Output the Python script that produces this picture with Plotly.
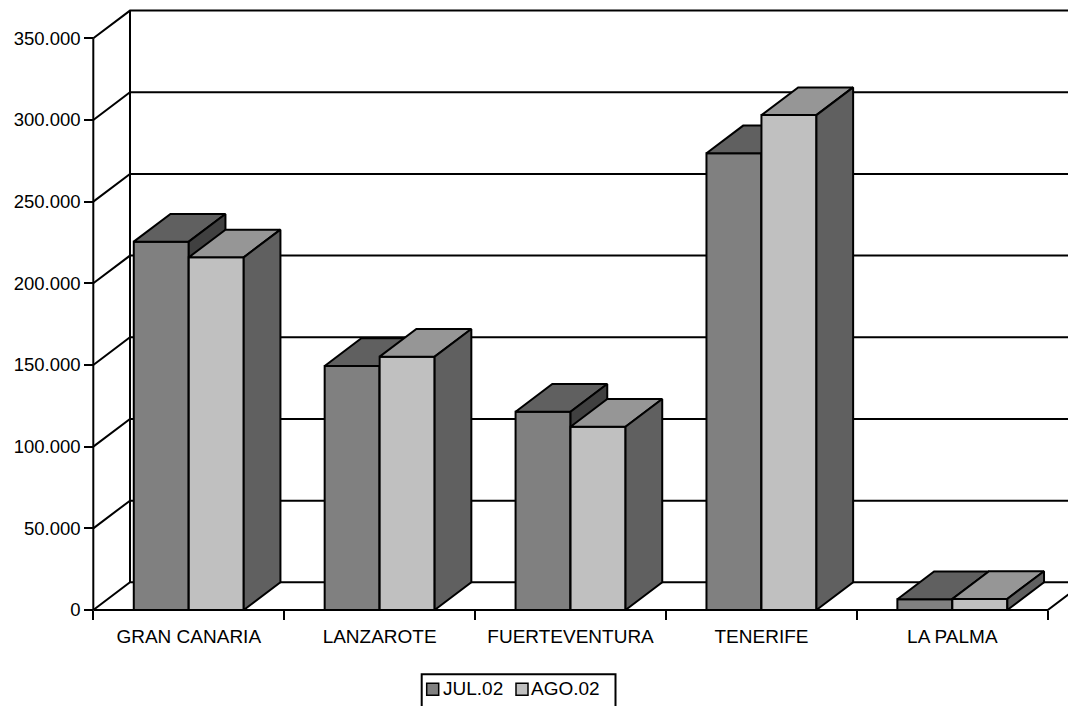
import plotly.graph_objects as go

# ---------------- data ----------------
categories = ["GRAN CANARIA", "LANZAROTE", "FUERTEVENTURA", "TENERIFE", "LA PALMA"]
series_names = ["JUL.02", "AGO.02"]
jul_values = [225500, 149400, 121400, 279600, 6600]
ago_values = [215900, 155100, 112200, 303000, 6800]
y_tick_values = [0, 50000, 100000, 150000, 200000, 250000, 300000, 350000]
y_tick_labels = ["0", "50.000", "100.000", "150.000", "200.000", "250.000", "300.000", "350.000"]

# ---------------- geometry ----------------
PAGE_OFF = 8                     # default body margin of the html page
W, H = 1076 - PAGE_OFF, 706 - PAGE_OFF
AX_X_PX = 93.3 - PAGE_OFF        # front value-axis x position (figure px)
AX_Y_PX = 610.0 - PAGE_OFF       # front baseline y position (figure px)
CAT_PX = 190.9                   # px per category
VAL_PX = 81.67 / 50000           # px per value unit
DEPTH_X_PX, DEPTH_Y_PX = 36.7, 27.7
BAR_W = 0.288

dx = DEPTH_X_PX / CAT_PX
dy = DEPTH_Y_PX / VAL_PX
x_range = [-0.5 - AX_X_PX / CAT_PX, -0.5 + (W - AX_X_PX) / CAT_PX]
y_range = [-(H - AX_Y_PX) / VAL_PX, AX_Y_PX / VAL_PX]
n = len(categories)
x_lo, x_hi = -0.5, n - 0.5
y_top = y_tick_values[-1]

FONT = "Liberation Sans, Arial, sans-serif"


def px(xp):
    return (xp - PAGE_OFF) / W


def py(yp):
    return 1 - (yp - PAGE_OFF) / H


fig = go.Figure()

# ---------------- walls, floor and gridlines ----------------
gx, gy = [], []
for v in y_tick_values:
    gx += [x_lo, x_lo + dx, x_hi + dx, None]
    gy += [v, v + dy, v + dy, None]
gx += [x_lo + dx, x_lo + dx, None]
gy += [dy, y_top + dy, None]
gx += [x_lo, x_lo, None]
gy += [0, y_top, None]
gx += [x_lo, x_hi, x_hi + dx, None]
gy += [0, 0, dy, None]
fig.add_trace(go.Scatter(x=gx, y=gy, mode="lines", line=dict(color="black", width=2),
                         hoverinfo="skip", showlegend=False))


# ---------------- 3D bars ----------------
def faces(values, offset):
    fx, fy, tx, ty, sx, sy = [], [], [], [], [], []
    for i, v in enumerate(values):
        l = i + offset
        r = l + BAR_W
        fx += [l, r, r, l, l, None]
        fy += [0, 0, v, v, 0, None]
        tx += [l, r, r + dx, l + dx, l, None]
        ty += [v, v, v + dy, v + dy, v, None]
        sx += [r, r + dx, r + dx, r, r, None]
        sy += [0, dy, v + dy, v, 0, None]
    return (fx, fy), (tx, ty), (sx, sy)


series = [
    (jul_values, -BAR_W, ("#808080", "#606060", "#404040")),
    (ago_values, 0.0, ("#C0C0C0", "#969696", "#606060")),
]
for name, (vals, off, cols) in zip(series_names, series):
    for (xx, yy), col in zip(faces(vals, off), cols):
        fig.add_trace(go.Scatter(x=xx, y=yy, mode="lines", fill="toself", fillcolor=col,
                                 line=dict(color="black", width=2), hoverinfo="skip",
                                 name=name, showlegend=False))

# ---------------- legend (drawn) ----------------
shapes = [dict(type="rect", xref="paper", yref="paper",
               x0=px(421.7), x1=px(615.5), y0=py(674.3), y1=py(730),
               line=dict(color="black", width=2), fillcolor="white", layer="above")]
annotations = []
legend_items = [(series_names[0], series[0][2][0], 426.7, 443.0),
                (series_names[1], series[1][2][0], 516.0, 530.5)]
for name, col, sw_x, tx_x in legend_items:
    shapes.append(dict(type="rect", xref="paper", yref="paper",
                       x0=px(sw_x), x1=px(sw_x + 12), y0=py(683.3), y1=py(695.3),
                       line=dict(color="black", width=1.5), fillcolor=col, layer="above"))
    annotations.append(dict(xref="paper", yref="paper", x=px(tx_x - 2), y=py(688.5),
                            xanchor="left", yanchor="middle", text=name, showarrow=False,
                            font=dict(family=FONT, size=19, color="black")))

fig.update_layout(
    width=W, height=H,
    margin=dict(l=0, r=0, t=0, b=0),
    paper_bgcolor="white", plot_bgcolor="white",
    font=dict(family=FONT, size=18, color="black"),
    showlegend=False,
    shapes=shapes,
    annotations=annotations,
    xaxis=dict(range=x_range, anchor="free", position=(H - AX_Y_PX) / H,
               tickmode="array", tickvals=list(range(n)), ticktext=categories,
               tickfont=dict(family=FONT, size=19, color="black"),
               ticks="outside", ticklen=9, tickcolor="rgba(0,0,0,0)",
               minor=dict(tickmode="array", tickvals=[k - 0.5 for k in range(n + 1)],
                          ticks="outside", ticklen=9, tickwidth=2, tickcolor="black",
                          showgrid=False),
               showgrid=False, zeroline=False, showline=False, automargin=False,
               fixedrange=True),
    yaxis=dict(range=y_range, anchor="free", position=AX_X_PX / W,
               tickmode="array", tickvals=y_tick_values, ticktext=y_tick_labels,
               tickfont=dict(family=FONT, size=18.5, color="black"),
               ticks="outside", ticklen=9, tickwidth=2, tickcolor="black",
               showgrid=False, zeroline=False, showline=False, automargin=False,
               fixedrange=True),
)

fig.write_html("out.html")
